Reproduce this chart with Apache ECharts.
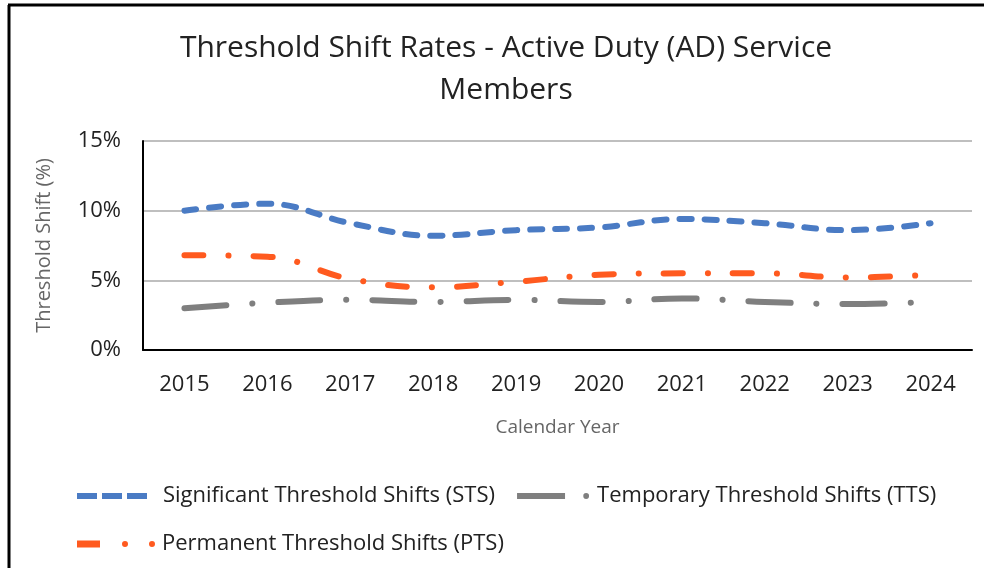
<!DOCTYPE html>
<html style="height: 100%">
<head>
    <meta charset="utf-8">
    <title>Threshold Shift Rates</title>
</head>
<body style="margin: 0; background: #fff">
<div id="container" style="width: 984px; height: 568px"></div>

<script src="https://cdn.jsdelivr.net/npm/echarts@6/dist/echarts.min.js" type="text/javascript"></script>

<script type="text/javascript">

    var years = ['2015', '2016', '2017', '2018', '2019', '2020', '2021', '2022', '2023', '2024'];
    // percentages
    var stsValues = [10.0, 10.5, 9.1, 8.2, 8.6, 8.8, 9.4, 9.1, 8.6, 9.1];
    var ttsValues = [3.0, 3.4, 3.6, 3.45, 3.6, 3.45, 3.7, 3.45, 3.3, 3.45];
    var ptsValues = [6.8, 6.7, 5.1, 4.5, 4.9, 5.4, 5.5, 5.5, 5.2, 5.4];
    var yTicks = [0, 5, 10, 15];

    var FONT = '"Open Sans", sans-serif';
    var BLUE = '#4a7bc4', GREY = '#7f7f7f', ORANGE = '#ff5a1f';

    // legend swatches drawn like the Excel ones
    var stsIcon = 'path://M0,0h20v6h-20z M25,0h20v6h-20z M50,0h20v6h-20z';
    var ttsIcon = 'path://M0,0h50v6h-50z M69,3a3,3 0 1,0 6,0a3,3 0 1,0 -6,0z';
    var ptsIcon = 'path://M0,0h23v7h-23z M45,3.5a3,3 0 1,0 6,0a3,3 0 1,0 -6,0z M72,3.5a3,3 0 1,0 6,0a3,3 0 1,0 -6,0z';

    var dom = document.getElementById('container');
    var myChart = echarts.init(dom);

    var option = {
        backgroundColor: '#fff',
        animation: false,
        title: {
            text: 'Threshold Shift Rates - Active Duty (AD) Service\nMembers',
            left: 501,
            top: 22,
            textAlign: 'center',
            textStyle: {
                fontFamily: FONT,
                fontWeight: 'normal',
                fontSize: 30,
                lineHeight: 42,
                color: '#222'
            }
        },
        grid: {
            left: 143,
            right: 12,
            top: 141,
            height: 209
        },
        legend: [{
            data: [
                { name: 'Significant Threshold Shifts (STS)', icon: stsIcon, itemWidth: 70, textStyle: { padding: [0, 0, 0, 10] } },
                { name: 'Temporary Threshold Shifts (TTS)', icon: ttsIcon, itemWidth: 75, textStyle: { padding: [0, 0, 0, 3] } }
            ],
            left: 72,
            top: 480,
            itemWidth: 72,
            itemHeight: 6,
            itemGap: 22,
            textStyle: { fontFamily: FONT, fontSize: 22, color: '#222' }
        }, {
            data: [
                { name: 'Permanent Threshold Shifts (PTS)', icon: ptsIcon }
            ],
            left: 72,
            top: 528,
            itemWidth: 78,
            itemHeight: 7,
            textStyle: { fontFamily: FONT, fontSize: 22, color: '#222', padding: [0, 0, 0, 2] }
        }],
        graphic: [{
            type: 'line',
            shape: { x1: 8, y1: 5, x2: 984, y2: 5 },
            style: { stroke: '#000', lineWidth: 3 }
        }, {
            type: 'line',
            shape: { x1: 9, y1: 5, x2: 9, y2: 568 },
            style: { stroke: '#000', lineWidth: 3 }
        }],
        xAxis: {
            type: 'category',
            data: years,
            boundaryGap: true,
            name: 'Calendar Year',
            nameLocation: 'middle',
            nameGap: 68,
            nameTextStyle: { fontFamily: FONT, fontSize: 19, color: '#666' },
            axisLine: { lineStyle: { color: '#000', width: 2 } },
            axisTick: { show: false },
            axisLabel: { fontFamily: FONT, fontSize: 22, color: '#222', margin: 24 }
        },
        yAxis: {
            type: 'value',
            min: yTicks[0],
            max: yTicks[yTicks.length - 1],
            interval: 5,
            name: 'Threshold Shift (%)',
            nameLocation: 'middle',
            nameGap: 89,
            nameTextStyle: { fontFamily: FONT, fontSize: 20, color: '#666' },
            axisLine: { show: true, lineStyle: { color: '#000', width: 2 } },
            axisTick: { show: false },
            axisLabel: {
                fontFamily: FONT, fontSize: 22, color: '#222', margin: 22,
                formatter: '{value}%'
            },
            splitLine: { lineStyle: { color: '#bfbfbf', width: 2 } }
        },
        series: [{
            name: 'Significant Threshold Shifts (STS)',
            type: 'line',
            smooth: 0.4,
            data: stsValues,
            showSymbol: false,
            itemStyle: { color: BLUE },
            lineStyle: { color: BLUE, width: 6, type: [12, 13], cap: 'round' }
        }, {
            name: 'Temporary Threshold Shifts (TTS)',
            type: 'line',
            smooth: 0.4,
            data: ttsValues,
            showSymbol: false,
            itemStyle: { color: GREY },
            lineStyle: { color: GREY, width: 6, type: [42, 26, 0.1, 26], cap: 'round' }
        }, {
            name: 'Permanent Threshold Shifts (PTS)',
            type: 'line',
            smooth: 0.4,
            data: ptsValues,
            showSymbol: false,
            itemStyle: { color: ORANGE },
            lineStyle: { color: ORANGE, width: 6, type: [19, 25, 0.1, 25], cap: 'round' }
        }]
    };

    if (option && typeof option === 'object') {
        myChart.setOption(option, true);
    }
</script>
</body>
</html>
